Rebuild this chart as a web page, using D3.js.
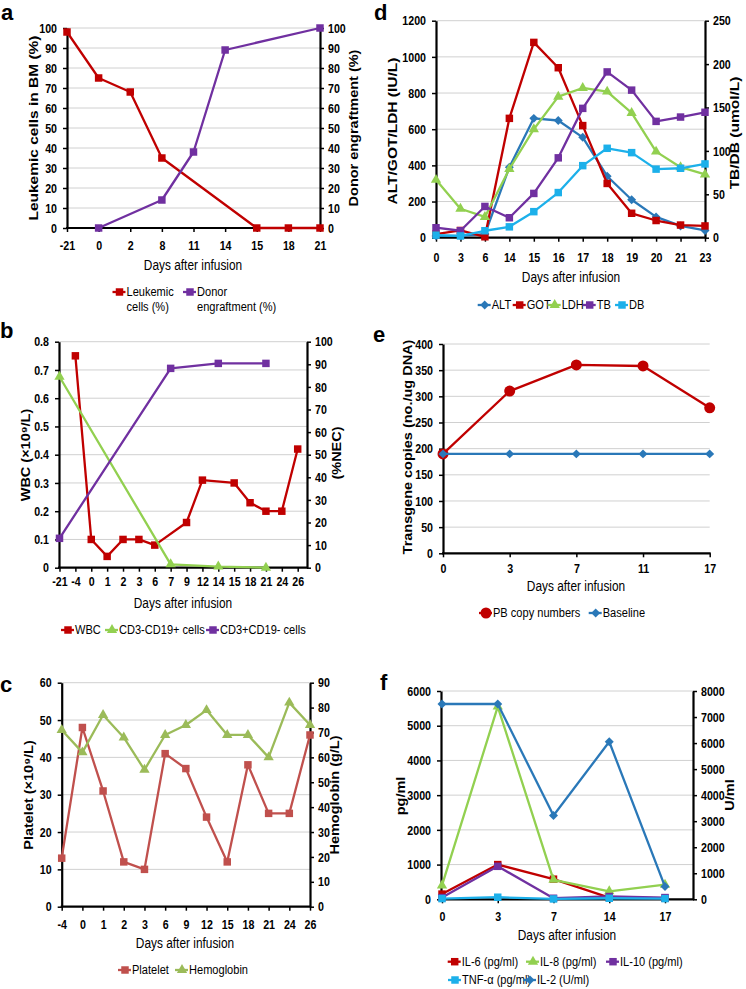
<!DOCTYPE html>
<html>
<head>
<meta charset="utf-8">
<title>Patient course</title>
<script src="https://cdn.jsdelivr.net/npm/d3@7"></script>
<style>
  body { margin: 0; background: #fff; }
</style>
</head>
<body>
<svg id="fig" width="746" height="989"></svg>
<script>
// ---- data ----
// a: bone marrow
var aDays = ["-21", "0", "2", "8", "11", "14", "15", "18", "21"];
var aLeukemic = [98, 75, 68, 35, null, null, 0, 0, 0];
var aDonor = [null, 0, null, 14, 38, 89, null, null, 100];

// b: WBC and lymphocyte subsets
var bDays = ["-21", "-4", "0", "1", "2", "3", "6", "7", "9", "12", "14", "15", "18", "21", "24", "26"];
var bWBC = [null, 0.75, 0.10, 0.04, 0.10, 0.10, 0.08, null, 0.16, 0.31, null, 0.30, 0.23, 0.20, 0.20, 0.42];
var bCD19 = [84.5, null, null, null, null, null, null, 1.5, null, null, 0.5, null, null, 0, null, null];
var bCD3 = [13, null, null, null, null, null, null, 88.2, null, null, 90.4, null, null, 90.4, null, null];

// c: platelet / hemoglobin
var cDays = ["-4", "0", "1", "2", "3", "6", "9", "12", "15", "18", "21", "24", "26"];
var cPlatelet = [13, 48, 31, 12, 10, 41, 37, 24, 12, 38, 25, 25, 46];
var cHemoglobin = [71, 62, 77, 68, 55, 69, 73, 79, 69, 69, 60, 82, 73];

// d: liver function
var dDays = ["0", "3", "6", "14", "15", "16", "17", "18", "19", "20", "21", "23"];
var dALT = [10, 10, 20, 390, 660, 648, 555, 340, 210, 115, 65, 40];
var dGOT = [20, 40, 5, 660, 1080, 940, 620, 300, 135, 95, 70, 65];
var dLDH = [320, 160, 115, 380, 600, 780, 828, 808, 690, 476, 390, 350];
var dTB = [11.5, 8, 36, 23, 51, 92, 149, 191, 170, 134, 139, 144.5];
var dDB = [3, 2, 8, 12.5, 30, 52, 83, 103, 98, 79, 80, 85];

// e: transgene copies
var eDays = ["0", "3", "7", "11", "17"];
var ePB = [190, 310, 360, 358, 278];
var eBase = [190, 190, 190, 190, 190];

// f: cytokines
var fDays = ["0", "3", "7", "14", "17"];
var fIL6 = [150, 1000, 580, 50, 30];
var fIL8 = [400, 5550, 560, 230, 420];
var fIL10 = [50, 950, 30, 80, 50];
var fTNF = [20, 60, 10, 30, 20];
var fIL2 = [7500, 7500, 3220, 6050, 490];

var RED = "#c00000", PURPLE = "#7030a0", GREEN = "#92d050", CYAN = "#1cb0ea",
    BLUE = "#2a78b8", SALMON = "#c0504d", OLIVE = "#9bbb59";
var FONT = "'Liberation Sans',Arial,sans-serif";
var K = 0.82;   // horizontal squeeze, the original text looks like Arial Narrow

var svg = d3.select("#fig");
svg.append("rect").attr("width", 746).attr("height", 989).attr("fill", "#fff");

function mark(g, shape, color, x, y) {
  var sym, size, rot = 0;
  if (shape == "square") { sym = d3.symbolSquare; size = 56; }
  else if (shape == "triangle") { sym = d3.symbolTriangle; size = 46; }
  else if (shape == "diamond") { sym = d3.symbolSquare; size = 40; rot = 45; }
  else { sym = d3.symbolCircle; size = 95; }
  g.append("path")
    .attr("d", d3.symbol(sym, size)())
    .attr("fill", color)
    .attr("transform", "translate(" + x + "," + y + ") rotate(" + rot + ")");
}

function range(max, step) {
  var out = [];
  for (var i = 0; i * step <= max + 1e-9; i++) out.push(+(i * step).toFixed(3));
  return out;
}

// narrow text placed at (x,y)
function ntext(g, x, y, str, size, anchor) {
  return g.append("text").attr("x", x / K).attr("y", y).attr("transform", "scale(" + K + ",1)")
    .attr("font-family", FONT).attr("font-size", size).attr("text-anchor", anchor || "start")
    .text(str);
}

function styleAxis(a) {
  a.attr("font-family", FONT).attr("font-size", 13).attr("font-weight", "bold");
  a.selectAll("text").attr("fill", "#000").each(function() {
    var t = d3.select(this);
    t.attr("x", (+t.attr("x") || 0) / K).attr("transform", "scale(" + K + ",1)");
  });
  a.selectAll(".domain").attr("stroke", "#000").attr("stroke-width", 2.2);
  a.selectAll(".tick line").attr("stroke", "#000").attr("stroke-width", 1.5);
}

function vtitle(g, t) {
  g.append("text")
    .attr("transform", "translate(" + t[1] + "," + t[2] + ") scale(0.85,1) rotate(-90)")
    .attr("text-anchor", "middle").attr("font-family", FONT).attr("font-weight", "bold")
    .attr("font-size", t[3] || 14.5).text(t[0]);
}

function panel(p) {
  var g = svg.append("g");
  var x = d3.scalePoint().domain(p.cats).range([p.x0, p.x1]);
  var yL = d3.scaleLinear().domain([0, p.lMax]).range([p.bottom, p.top]);
  var yR = p.rMax ? d3.scaleLinear().domain([0, p.rMax]).range([p.bottom, p.top]) : null;
  var lTicks = range(p.lMax, p.lStep);

  // gridlines
  g.selectAll(".grid").data(lTicks.slice(1)).enter().append("line")
    .attr("x1", p.left).attr("x2", p.right)
    .attr("y1", function(d) { return yL(d); }).attr("y2", function(d) { return yL(d); })
    .attr("stroke", "#d0d0d0").attr("stroke-width", 1);

  // axes
  var ax = g.append("g").attr("transform", "translate(" + p.left + ",0)")
    .call(d3.axisLeft(yL).tickValues(lTicks).tickSize(4).tickSizeOuter(0).tickPadding(6)
      .tickFormat(p.lFmt || d3.format("d")));
  styleAxis(ax);
  if (yR) {
    var ar = g.append("g").attr("transform", "translate(" + p.right + ",0)")
      .call(d3.axisRight(yR).tickValues(range(p.rMax, p.rStep)).tickSize(4).tickSizeOuter(0).tickPadding(4)
        .tickFormat(d3.format("d")));
    styleAxis(ar);
  }
  var axb = g.append("g").attr("transform", "translate(0," + p.bottom + ")")
    .call(d3.axisBottom(x).tickSize(4).tickSizeOuter(0).tickPadding(p.xPad));
  styleAxis(axb);
  axb.select(".domain").remove();
  g.append("line").attr("x1", p.left - 1).attr("x2", p.right + 1)
    .attr("y1", p.bottom).attr("y2", p.bottom).attr("stroke", "#000").attr("stroke-width", 2.2);

  // series
  p.series.forEach(function(s) {
    var sc = s.right ? yR : yL;
    var pts = p.cats.map(function(c, i) { return { c: c, v: s.vals[i] }; })
      .filter(function(d) { return d.v != null; });
    g.append("path").datum(pts)
      .attr("d", d3.line().x(function(d) { return x(d.c); }).y(function(d) { return sc(d.v); }))
      .attr("fill", "none").attr("stroke", s.color).attr("stroke-width", 2.3)
      .attr("stroke-linejoin", "round");
    pts.forEach(function(d) { mark(g, s.shape, s.color, x(d.c), sc(d.v)); });
  });

  // titles
  vtitle(g, p.lTitle);
  if (p.rTitle) vtitle(g, p.rTitle);
  ntext(g, p.xTitle[0], p.xTitle[1], "Days after infusion", 14.5, "middle");
  g.append("text").attr("x", p.letter[1]).attr("y", p.letter[2])
    .attr("font-family", FONT).attr("font-weight", "bold").attr("font-size", 22).text(p.letter[0]);

  // legend
  p.legend.forEach(function(l) {
    var s = p.series[l.s];
    g.append("line").attr("x1", l.x - 7).attr("x2", l.x + 6).attr("y1", l.y).attr("y2", l.y)
      .attr("stroke", s.color).attr("stroke-width", 2.3);
    mark(g, s.shape, s.color, l.x, l.y);
    l.text.forEach(function(line, i) {
      ntext(g, l.x + 7, l.y + 4.5 + i * 15, line, 13.5);
    });
  });
}

panel({
  cats: aDays, x0: 67, x1: 320, left: 67, right: 320, top: 28, bottom: 228,
  lMax: 100, lStep: 10, rMax: 100, rStep: 10, xPad: 9,
  lTitle: ["Leukemic cells in BM (%)", 38, 128, 15.5], rTitle: ["Donor engraftment (%)", 358, 128],
  xTitle: [193, 270], letter: ["a", 1, 20],
  series: [
    { vals: aLeukemic, color: RED, shape: "square" },
    { vals: aDonor, color: PURPLE, shape: "square" }
  ],
  legend: [
    { s: 0, x: 119.5, y: 292, text: ["Leukemic", "cells (%)"] },
    { s: 1, x: 190, y: 292, text: ["Donor", "engraftment (%)"] }
  ]
});

panel({
  cats: bDays, x0: 59.5, x1: 297.7, left: 59, right: 307, top: 341.7, bottom: 567.7,
  lMax: 0.8, lStep: 0.1, rMax: 100, rStep: 10, xPad: 5,
  lFmt: function(d) { return d === 0 ? "0" : d3.format(".1f")(d); },
  lTitle: ["WBC (\u00d710\u2079/L)", 30, 455], rTitle: ["(%NEC)", 341, 453],
  xTitle: [183, 608], letter: ["b", 0, 338],
  series: [
    { vals: bWBC, color: RED, shape: "square" },
    { vals: bCD19, color: GREEN, shape: "triangle", right: true },
    { vals: bCD3, color: PURPLE, shape: "square", right: true }
  ],
  legend: [
    { s: 0, x: 68, y: 630, text: ["WBC"] },
    { s: 1, x: 112, y: 630, text: ["CD3-CD19+ cells"] },
    { s: 2, x: 213, y: 630, text: ["CD3+CD19- cells"] }
  ]
});

panel({
  cats: cDays, x0: 61.7, x1: 310, left: 61.7, right: 310, top: 682.7, bottom: 906.7,
  lMax: 60, lStep: 10, rMax: 90, rStep: 10, xPad: 9,
  lTitle: ["Platelet (\u00d710\u2079/L)", 33, 795], rTitle: ["Hemoglobin (g/L)", 339, 795],
  xTitle: [185, 948], letter: ["c", 0, 692],
  series: [
    { vals: cPlatelet, color: SALMON, shape: "square" },
    { vals: cHemoglobin, color: OLIVE, shape: "triangle", right: true }
  ],
  legend: [
    { s: 0, x: 125, y: 970, text: ["Platelet"] },
    { s: 1, x: 182, y: 970, text: ["Hemoglobin"] }
  ]
});

panel({
  cats: dDays, x0: 436, x1: 705, left: 436, right: 705, top: 20.7, bottom: 237.7,
  lMax: 1200, lStep: 200, rMax: 250, rStep: 50, xPad: 11,
  lTitle: ["ALT/GOT/LDH (IU/L)", 397, 131, 15.5], rTitle: ["TB/DB (umol/L)", 739, 133, 15.5],
  xTitle: [571, 282], letter: ["d", 374, 20],
  series: [
    { vals: dALT, color: BLUE, shape: "diamond" },
    { vals: dGOT, color: RED, shape: "square" },
    { vals: dLDH, color: GREEN, shape: "triangle" },
    { vals: dTB, color: PURPLE, shape: "square", right: true },
    { vals: dDB, color: CYAN, shape: "square", right: true }
  ],
  legend: [
    { s: 0, x: 484.7, y: 305, text: ["ALT"] },
    { s: 1, x: 519.7, y: 305, text: ["GOT"] },
    { s: 2, x: 554.7, y: 305, text: ["LDH"] },
    { s: 3, x: 589.7, y: 305, text: ["TB"] },
    { s: 4, x: 622, y: 305, text: ["DB"] }
  ]
});

panel({
  cats: eDays, x0: 443, x1: 709.7, left: 443, right: 709.7, top: 344, bottom: 553.3,
  lMax: 400, lStep: 50, xPad: 6,
  lTitle: ["Transgene copies (no./ug DNA)", 412, 447],
  xTitle: [576, 591], letter: ["e", 373, 342],
  series: [
    { vals: ePB, color: RED, shape: "circle" },
    { vals: eBase, color: BLUE, shape: "diamond" }
  ],
  legend: [
    { s: 0, x: 486, y: 613, text: ["PB copy numbers"] },
    { s: 1, x: 595.7, y: 613, text: ["Baseline"] }
  ]
});

panel({
  cats: fDays, x0: 442, x1: 665, left: 441, right: 693, top: 691, bottom: 899.3,
  lMax: 6000, lStep: 1000, rMax: 8000, rStep: 1000, xPad: 8,
  lTitle: ["pg/ml", 405, 796], rTitle: ["U/ml", 734, 795],
  xTitle: [567, 940], letter: ["f", 380, 690],
  series: [
    { vals: fIL6, color: RED, shape: "square" },
    { vals: fIL8, color: GREEN, shape: "triangle" },
    { vals: fIL10, color: PURPLE, shape: "square" },
    { vals: fTNF, color: CYAN, shape: "square" },
    { vals: fIL2, color: BLUE, shape: "diamond", right: true }
  ],
  legend: [
    { s: 0, x: 454.7, y: 961.7, text: ["IL-6 (pg/ml)"] },
    { s: 1, x: 533, y: 961.7, text: ["IL-8 (pg/ml)"] },
    { s: 2, x: 613, y: 961.7, text: ["IL-10 (pg/ml)"] },
    { s: 3, x: 455, y: 980, text: ["TNF-\u03b1 (pg/ml)"] },
    { s: 4, x: 530, y: 980, text: ["IL-2 (U/ml)"] }
  ]
});
</script>
</body>
</html>
